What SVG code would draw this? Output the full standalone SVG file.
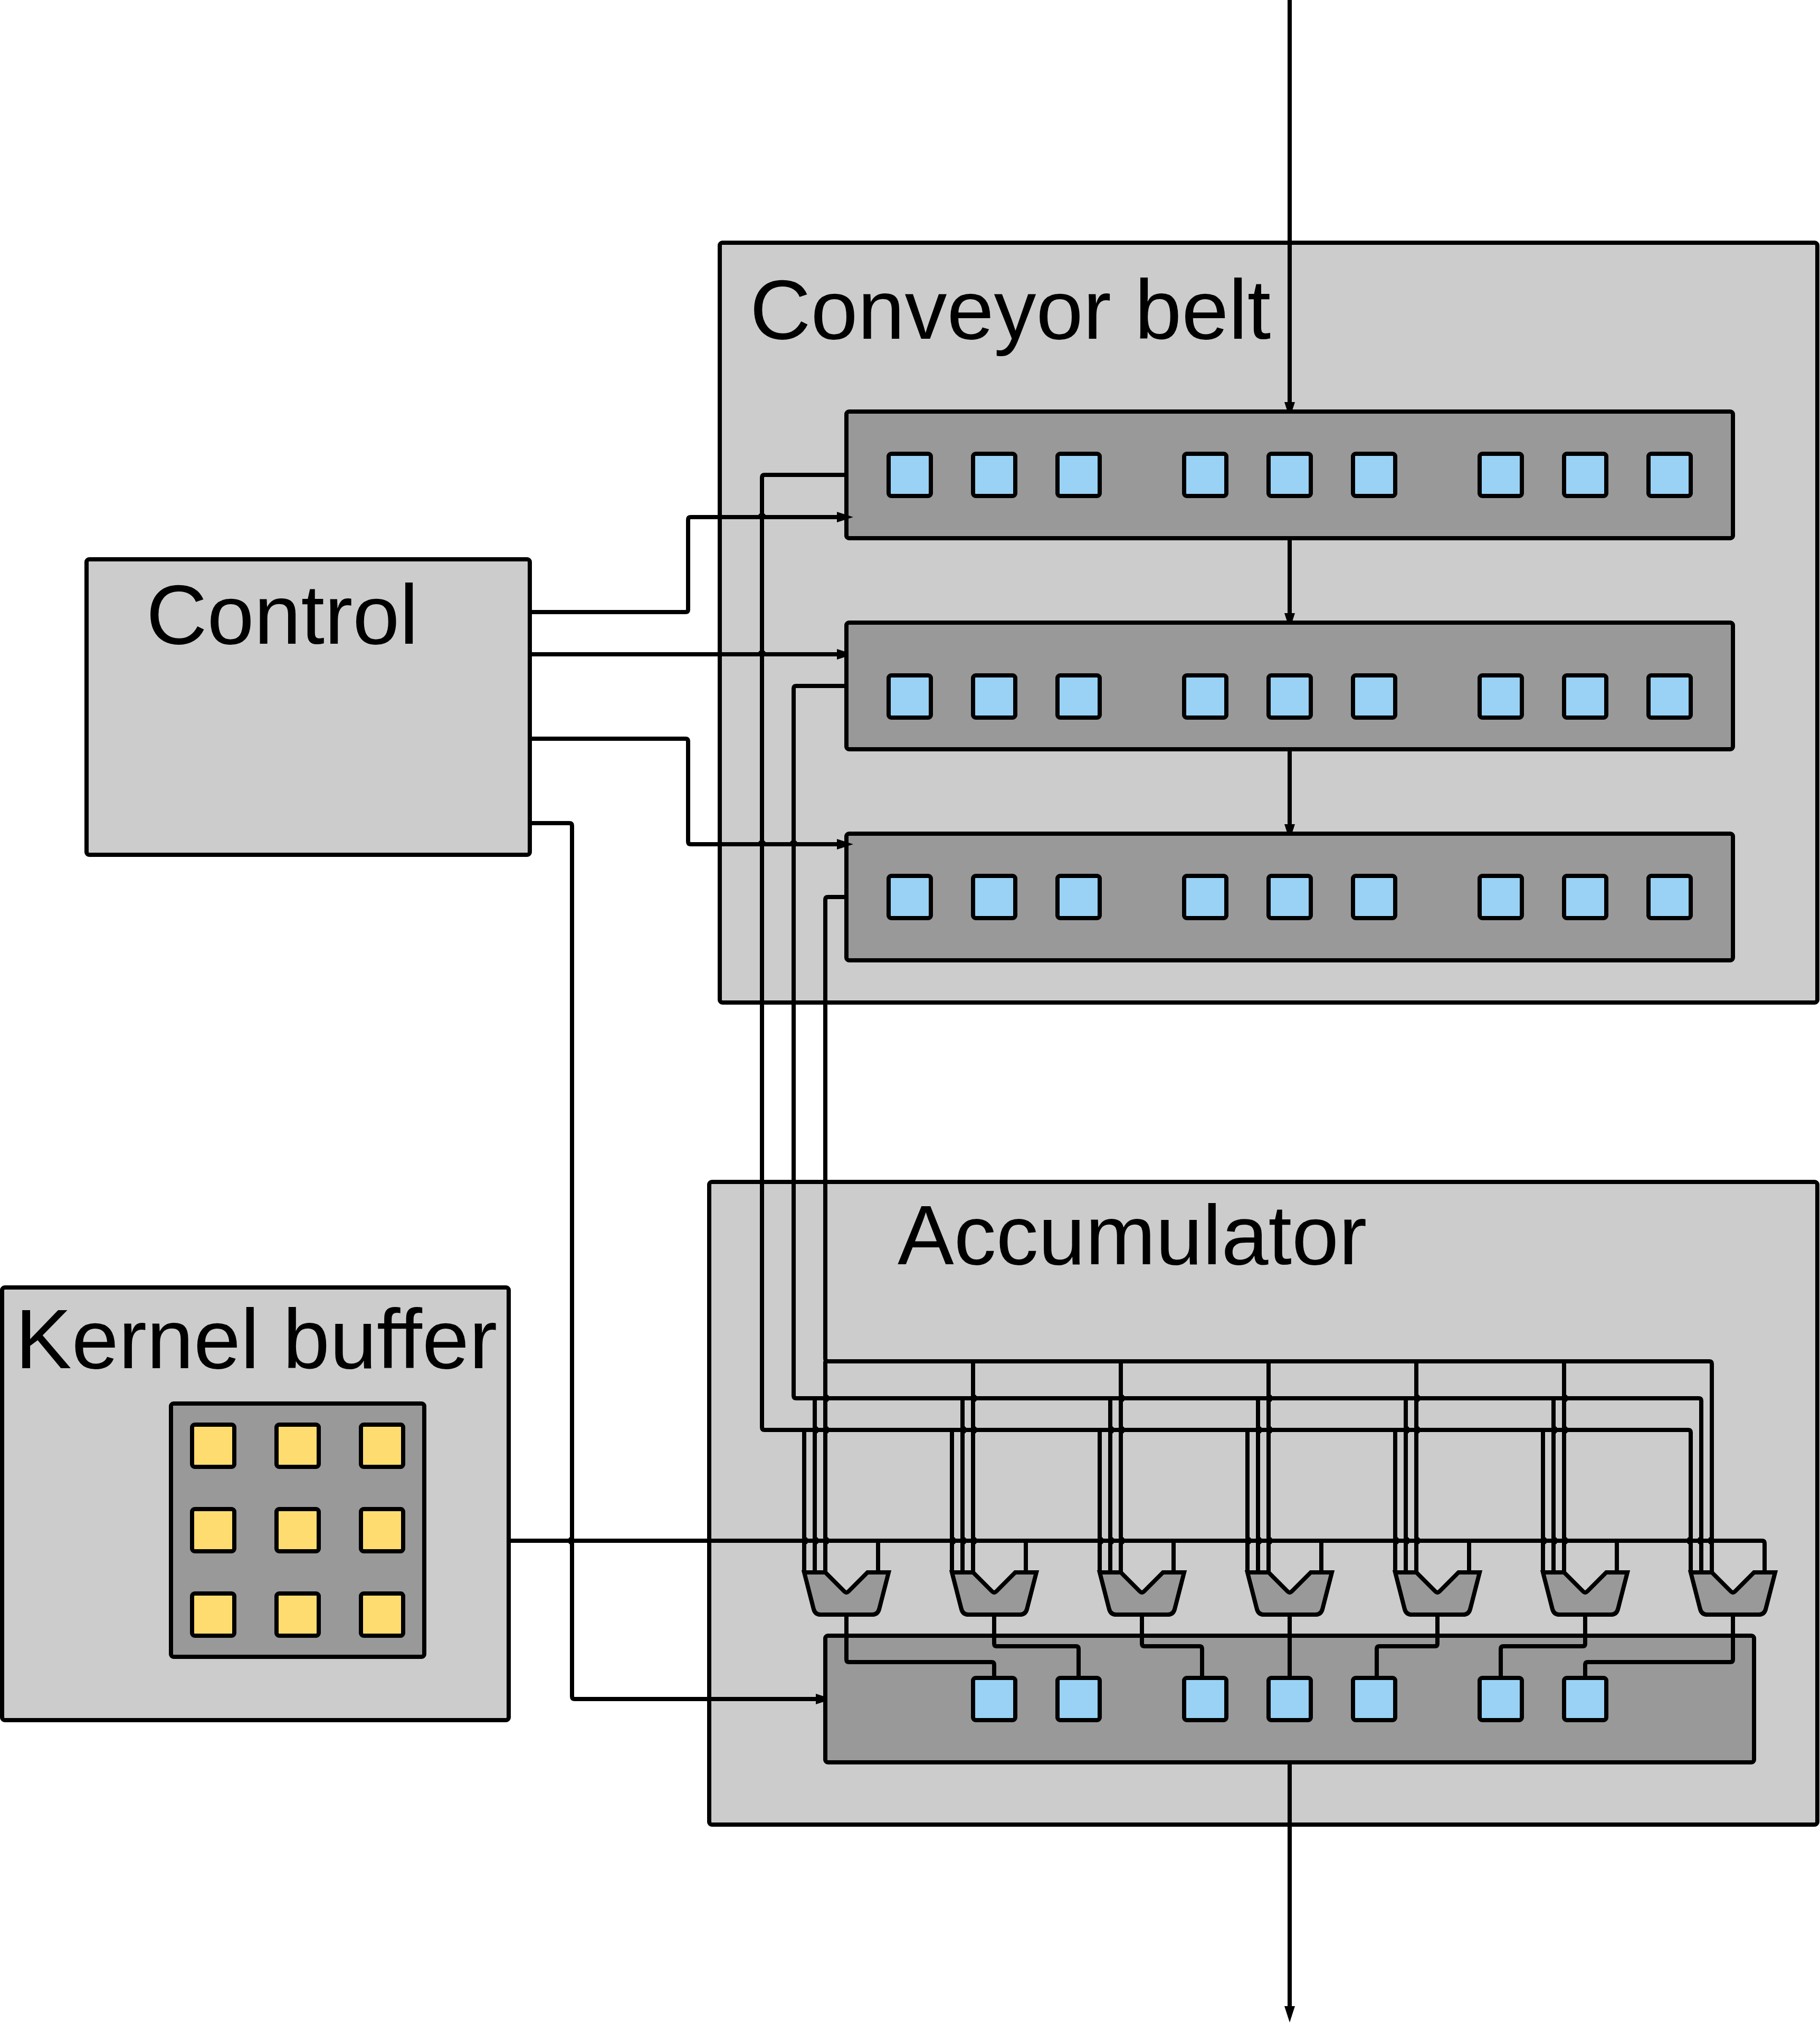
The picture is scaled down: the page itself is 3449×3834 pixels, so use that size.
<svg xmlns="http://www.w3.org/2000/svg" width="3449" height="3834" viewBox="0 0 3449 3834">
<style>
.box{fill:#ccc;stroke:#000;stroke-width:8}
.reg{fill:#999;stroke:#000;stroke-width:8}
.cell{fill:#99d2f5;stroke:#000;stroke-width:8}
.kcell{fill:#ffdc70;stroke:#000;stroke-width:8}
.mux{fill:#999;stroke:#000;stroke-width:8;stroke-linejoin:miter}
.t{font-family:"Liberation Sans",Arial,sans-serif;font-size:160px;fill:#000}
.c{fill:none;stroke:#000;stroke-width:8;stroke-linejoin:round}
.a{marker-end:url(#arrow)}
.h{marker-end:url(#arrowCut)}
</style>
<defs>
<marker id="arrow" markerUnits="userSpaceOnUse" viewBox="0 -12 40 24" markerWidth="40" markerHeight="24" refX="0" refY="0" orient="auto"><polygon points="0,-10 31,0 0,10" fill="#000"/></marker>
<marker id="arrowCut" markerUnits="userSpaceOnUse" viewBox="0 -12 40 24" markerWidth="40" markerHeight="24" refX="0" refY="0" orient="auto"><polygon points="0,-10 18,-4.2 18,4.2 0,10" fill="#000"/></marker>
<path id="muxShape" d="M-80 0H-40L-4 36Q0 40 4 36L40 0H80L62 70Q59 80 49 80H-49Q-59 80 -62 70Z"/>
</defs>
<rect width="3449" height="3834" fill="#fff"/>
<g id="nodes">
<g id="conveyor-belt"><rect class="box" x="1364" y="460" width="2080" height="1440" rx="5"/><text class="t" x="1421" y="642">Conveyor belt</text></g>
<g id="accumulator"><rect class="box" x="1344" y="2240" width="2100" height="1218" rx="5"/><text class="t" x="1701" y="2396">Accumulator</text></g>
<g id="control"><rect class="box" x="164" y="1060" width="840" height="560" rx="5"/><text class="t" x="277" y="1220">Control</text></g>
<g id="kernel-buffer"><rect class="box" x="4" y="2440" width="960" height="820" rx="5"/><text class="t" x="29" y="2593">Kernel buffer</text></g>
<g id="kernel-array"><rect class="reg" x="324" y="2660" width="480" height="480" rx="5"/>
<rect class="kcell" x="364" y="2700" width="80" height="80" rx="5"/><rect class="kcell" x="524" y="2700" width="80" height="80" rx="5"/><rect class="kcell" x="684" y="2700" width="80" height="80" rx="5"/>
<rect class="kcell" x="364" y="2860" width="80" height="80" rx="5"/><rect class="kcell" x="524" y="2860" width="80" height="80" rx="5"/><rect class="kcell" x="684" y="2860" width="80" height="80" rx="5"/>
<rect class="kcell" x="364" y="3020" width="80" height="80" rx="5"/><rect class="kcell" x="524" y="3020" width="80" height="80" rx="5"/><rect class="kcell" x="684" y="3020" width="80" height="80" rx="5"/>
</g>
<g id="belt-row-1"><rect class="reg" x="1604" y="780" width="1680" height="240" rx="5"/>
<rect class="cell" x="1684" y="860" width="80" height="80" rx="5"/><rect class="cell" x="1844" y="860" width="80" height="80" rx="5"/><rect class="cell" x="2004" y="860" width="80" height="80" rx="5"/>
<rect class="cell" x="2244" y="860" width="80" height="80" rx="5"/><rect class="cell" x="2404" y="860" width="80" height="80" rx="5"/><rect class="cell" x="2564" y="860" width="80" height="80" rx="5"/>
<rect class="cell" x="2804" y="860" width="80" height="80" rx="5"/><rect class="cell" x="2964" y="860" width="80" height="80" rx="5"/><rect class="cell" x="3124" y="860" width="80" height="80" rx="5"/>
</g>
<g id="belt-row-2"><rect class="reg" x="1604" y="1180" width="1680" height="240" rx="5"/>
<rect class="cell" x="1684" y="1280" width="80" height="80" rx="5"/><rect class="cell" x="1844" y="1280" width="80" height="80" rx="5"/><rect class="cell" x="2004" y="1280" width="80" height="80" rx="5"/>
<rect class="cell" x="2244" y="1280" width="80" height="80" rx="5"/><rect class="cell" x="2404" y="1280" width="80" height="80" rx="5"/><rect class="cell" x="2564" y="1280" width="80" height="80" rx="5"/>
<rect class="cell" x="2804" y="1280" width="80" height="80" rx="5"/><rect class="cell" x="2964" y="1280" width="80" height="80" rx="5"/><rect class="cell" x="3124" y="1280" width="80" height="80" rx="5"/>
</g>
<g id="belt-row-3"><rect class="reg" x="1604" y="1580" width="1680" height="240" rx="5"/>
<rect class="cell" x="1684" y="1660" width="80" height="80" rx="5"/><rect class="cell" x="1844" y="1660" width="80" height="80" rx="5"/><rect class="cell" x="2004" y="1660" width="80" height="80" rx="5"/>
<rect class="cell" x="2244" y="1660" width="80" height="80" rx="5"/><rect class="cell" x="2404" y="1660" width="80" height="80" rx="5"/><rect class="cell" x="2564" y="1660" width="80" height="80" rx="5"/>
<rect class="cell" x="2804" y="1660" width="80" height="80" rx="5"/><rect class="cell" x="2964" y="1660" width="80" height="80" rx="5"/><rect class="cell" x="3124" y="1660" width="80" height="80" rx="5"/>
</g>
<g id="accumulator-register"><rect class="reg" x="1564" y="3100" width="1760" height="240" rx="5"/>
<rect class="cell" x="1844" y="3180" width="80" height="80" rx="5"/><rect class="cell" x="2004" y="3180" width="80" height="80" rx="5"/>
<rect class="cell" x="2244" y="3180" width="80" height="80" rx="5"/><rect class="cell" x="2404" y="3180" width="80" height="80" rx="5"/><rect class="cell" x="2564" y="3180" width="80" height="80" rx="5"/>
<rect class="cell" x="2804" y="3180" width="80" height="80" rx="5"/><rect class="cell" x="2964" y="3180" width="80" height="80" rx="5"/>
</g>
<g id="mux-1"><use class="mux" href="#muxShape" x="1604" y="2980"/></g>
<g id="mux-2"><use class="mux" href="#muxShape" x="1884" y="2980"/></g>
<g id="mux-3"><use class="mux" href="#muxShape" x="2164" y="2980"/></g>
<g id="mux-4"><use class="mux" href="#muxShape" x="2444" y="2980"/></g>
<g id="mux-5"><use class="mux" href="#muxShape" x="2724" y="2980"/></g>
<g id="mux-6"><use class="mux" href="#muxShape" x="3004" y="2980"/></g>
<g id="mux-7"><use class="mux" href="#muxShape" x="3284" y="2980"/></g>
</g>
<g id="connectors" class="c">
<path class="h" d="M2444 0V762"/>
<path class="h" d="M2444 1020V1162"/>
<path class="h" d="M2444 1420V1562"/>
<path class="a" d="M2444 3340V3802"/>
<path class="a" d="M1004 1160H1299Q1304 1160 1304 1155V985Q1304 980 1309 980H1440a4 4 0 0 1 8 0H1586"/>
<path class="h" d="M1004 1240H1440a4 4 0 0 1 8 0H1586"/>
<path class="a" d="M1004 1400H1299Q1304 1400 1304 1405V1595Q1304 1600 1309 1600H1440a4 4 0 0 1 8 0H1500a4 4 0 0 1 8 0H1586"/>
<path class="h" d="M1004 1560H1079Q1084 1560 1084 1565V2916a4 4 0 0 0 0 8V3215Q1084 3220 1089 3220H1546"/>
<path d="M964 2920H3339Q3344 2920 3344 2925V2980"/>
<path d="M1604 900H1449Q1444 900 1444 905V2705Q1444 2710 1449 2710H3199Q3204 2710 3204 2715V2916a4 4 0 0 0 0 8V2980"/>
<path d="M1604 1300H1509Q1504 1300 1504 1305V2645Q1504 2650 1509 2650H3219Q3224 2650 3224 2655V2916a4 4 0 0 0 0 8V2980"/>
<path d="M1604 1700H1569Q1564 1700 1564 1705V2575Q1564 2580 1569 2580H3239Q3244 2580 3244 2585V2916a4 4 0 0 0 0 8V2980"/>
<path d="M1524 2980V2924a4 4 0 0 0 0-8V2710"/>
<path d="M1544 2980V2924a4 4 0 0 0 0-8V2714a4 4 0 0 0 0-8V2650"/>
<path d="M1564 2980V2924a4 4 0 0 0 0-8V2714a4 4 0 0 0 0-8V2654a4 4 0 0 0 0-8V2580"/>
<path d="M1664 2920V2980"/>
<path d="M1804 2980V2924a4 4 0 0 0 0-8V2710"/>
<path d="M1824 2980V2924a4 4 0 0 0 0-8V2714a4 4 0 0 0 0-8V2650"/>
<path d="M1844 2980V2924a4 4 0 0 0 0-8V2714a4 4 0 0 0 0-8V2654a4 4 0 0 0 0-8V2580"/>
<path d="M1944 2920V2980"/>
<path d="M2084 2980V2924a4 4 0 0 0 0-8V2710"/>
<path d="M2104 2980V2924a4 4 0 0 0 0-8V2714a4 4 0 0 0 0-8V2650"/>
<path d="M2124 2980V2924a4 4 0 0 0 0-8V2714a4 4 0 0 0 0-8V2654a4 4 0 0 0 0-8V2580"/>
<path d="M2224 2920V2980"/>
<path d="M2364 2980V2924a4 4 0 0 0 0-8V2710"/>
<path d="M2384 2980V2924a4 4 0 0 0 0-8V2714a4 4 0 0 0 0-8V2650"/>
<path d="M2404 2980V2924a4 4 0 0 0 0-8V2714a4 4 0 0 0 0-8V2654a4 4 0 0 0 0-8V2580"/>
<path d="M2504 2920V2980"/>
<path d="M2644 2980V2924a4 4 0 0 0 0-8V2710"/>
<path d="M2664 2980V2924a4 4 0 0 0 0-8V2714a4 4 0 0 0 0-8V2650"/>
<path d="M2684 2980V2924a4 4 0 0 0 0-8V2714a4 4 0 0 0 0-8V2654a4 4 0 0 0 0-8V2580"/>
<path d="M2784 2920V2980"/>
<path d="M2924 2980V2924a4 4 0 0 0 0-8V2710"/>
<path d="M2944 2980V2924a4 4 0 0 0 0-8V2714a4 4 0 0 0 0-8V2650"/>
<path d="M2964 2980V2924a4 4 0 0 0 0-8V2714a4 4 0 0 0 0-8V2654a4 4 0 0 0 0-8V2580"/>
<path d="M3064 2920V2980"/>
<path d="M1604 3060V3145Q1604 3150 1609 3150H1879Q1884 3150 1884 3155V3180"/>
<path d="M1884 3060V3115Q1884 3120 1889 3120H2039Q2044 3120 2044 3125V3180"/>
<path d="M2164 3060V3115Q2164 3120 2169 3120H2273Q2278 3120 2278 3125V3180"/>
<path d="M2444 3060V3180"/>
<path d="M2724 3060V3115Q2724 3120 2719 3120H2614Q2609 3120 2609 3125V3180"/>
<path d="M3004 3060V3115Q3004 3120 2999 3120H2849Q2844 3120 2844 3125V3180"/>
<path d="M3284 3060V3145Q3284 3150 3279 3150H3009Q3004 3150 3004 3155V3180"/>
</g>
</svg>
